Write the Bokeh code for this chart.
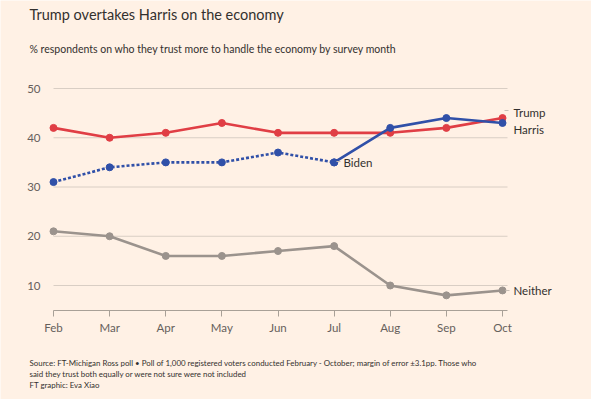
from bokeh.plotting import figure
from bokeh.models import Label, FixedTicker, Range1d, LinearAxis
from bokeh.embed import file_html
from bokeh.resources import INLINE

months = ["Feb", "Mar", "Apr", "May", "Jun", "Jul", "Aug", "Sep", "Oct"]
trump = [42, 40, 41, 43, 41, 41, 41, 42, 44]
biden = [31, 34, 35, 35, 37, 35]
harris = [35, 42, 44, 43]          # Jul..Oct
neither = [21, 20, 16, 16, 17, 18, 10, 8, 9]
y_ticks = [10, 20, 30, 40, 50]
y_base = 5

BG = "#FFF1E5"
RED = "#E03E45"
BLUE = "#3050A8"
GREY = "#9B938D"
TXT = "#33302E"
SUB = "#66605C"
FONT = "Lato"

xs = list(range(len(months)))
x_biden = xs[:len(biden)]
x_harris = xs[len(biden) - 1:]

W, H = 591, 399
# pixel geometry of the plotting area on the page
PX_FEB, PX_OCT = 53, 502
PY_50, PY_10 = 88, 285
SX = (PX_OCT - PX_FEB) / (len(months) - 1)
SY = (PY_10 - PY_50) / 40.0

def dx(px):
    return (px - PX_FEB) / SX

def dy(py):
    return 50 - (py - PY_50) / SY

X_END = dx(507)

p = figure(width=W, height=H, output_backend="svg", toolbar_location=None,
           x_range=Range1d(dx(0), dx(W)), y_range=Range1d(dy(H), dy(0)),
           x_axis_location=None, y_axis_location=None,
           min_border=0, min_border_left=0, min_border_right=0,
           min_border_top=0, min_border_bottom=0,
           background_fill_color=BG, border_fill_color=BG, outline_line_color=None)
p.xgrid.visible = False
p.ygrid.visible = False

# grid lines
p.segment(x0=[0] * len(y_ticks), y0=y_ticks, x1=[X_END] * len(y_ticks), y1=y_ticks,
          line_color="#D9CEC4", line_width=1)

# axes
xaxis = LinearAxis(fixed_location=y_base, bounds=(0, X_END))
xaxis.ticker = FixedTicker(ticks=xs)
xaxis.major_label_overrides = {i: m for i, m in enumerate(months)}
xaxis.axis_line_color = "#A8A097"
xaxis.major_tick_line_color = "#A8A097"
xaxis.major_tick_out = 6
xaxis.major_tick_in = 0
xaxis.minor_tick_line_color = None
xaxis.major_label_text_font = FONT
xaxis.major_label_text_font_size = "11.5px"
xaxis.major_label_text_color = SUB
xaxis.major_label_standoff = 5
p.add_layout(xaxis, "below")

yaxis = LinearAxis(fixed_location=0, bounds=(y_ticks[0], y_ticks[-1]))
yaxis.ticker = FixedTicker(ticks=y_ticks)
yaxis.axis_line_color = None
yaxis.major_tick_line_color = None
yaxis.minor_tick_line_color = None
yaxis.major_label_text_font = FONT
yaxis.major_label_text_font_size = "11.5px"
yaxis.major_label_text_color = SUB
yaxis.major_label_standoff = 7
p.add_layout(yaxis, "left")

# series
LW = 2.6
p.line(xs, neither, line_color=GREY, line_width=LW)
p.scatter(xs, neither, size=7, fill_color=GREY, line_color=GREY)

p.line(x_biden, biden, line_color=BLUE, line_width=LW, line_dash="3 2")
p.scatter(x_biden, biden, size=7, fill_color=BLUE, line_color=BLUE)

p.line(xs, trump, line_color=RED, line_width=LW)
p.scatter(xs, trump, size=7, fill_color=RED, line_color=RED)

p.line(x_harris, harris, line_color=BLUE, line_width=LW)
p.scatter(x_harris, harris, size=7, fill_color=BLUE, line_color=BLUE)

# leader ticks
p.segment(x0=[dx(504), dx(508), dx(505), dx(336)], y0=[dy(110), dy(130), dy(290), dy(161)],
          x1=[dx(508), dx(508), dx(509), dx(340)], y1=[dy(110), dy(130), dy(290), dy(161)],
          line_color="#C9BFB6", line_width=1)

def lab(text, px, py, size, color=TXT, baseline="middle"):
    p.add_layout(Label(x=dx(px), y=dy(py), text=text, text_font=FONT,
                       text_font_size=size, text_color=color,
                       text_baseline=baseline, text_align="left"))

lab("Trump", 513, 112, "11.5px")
lab("Harris", 513, 129, "11.5px")
lab("Neither", 513, 290, "11.5px")
lab("Biden", 343, 162, "11.5px")

lab("Trump overtakes Harris on the economy", 29, 14, "14.5px", TXT)
lab("% respondents on who they trust more to handle the economy by survey month", 29, 48, "10.5px", TXT)
lab("Source: FT-Michigan Ross poll \u2022 Poll of 1,000 registered voters conducted February - October; margin of error \u00b13.1pp. Those who",
    29, 362, "7.9px", TXT)
lab("said they trust both equally or were not sure were not included", 29, 373, "7.9px", TXT)
lab("FT graphic: Eva Xiao", 29, 384, "7.9px", TXT)

open("out.html", "w").write(file_html(p, INLINE))
